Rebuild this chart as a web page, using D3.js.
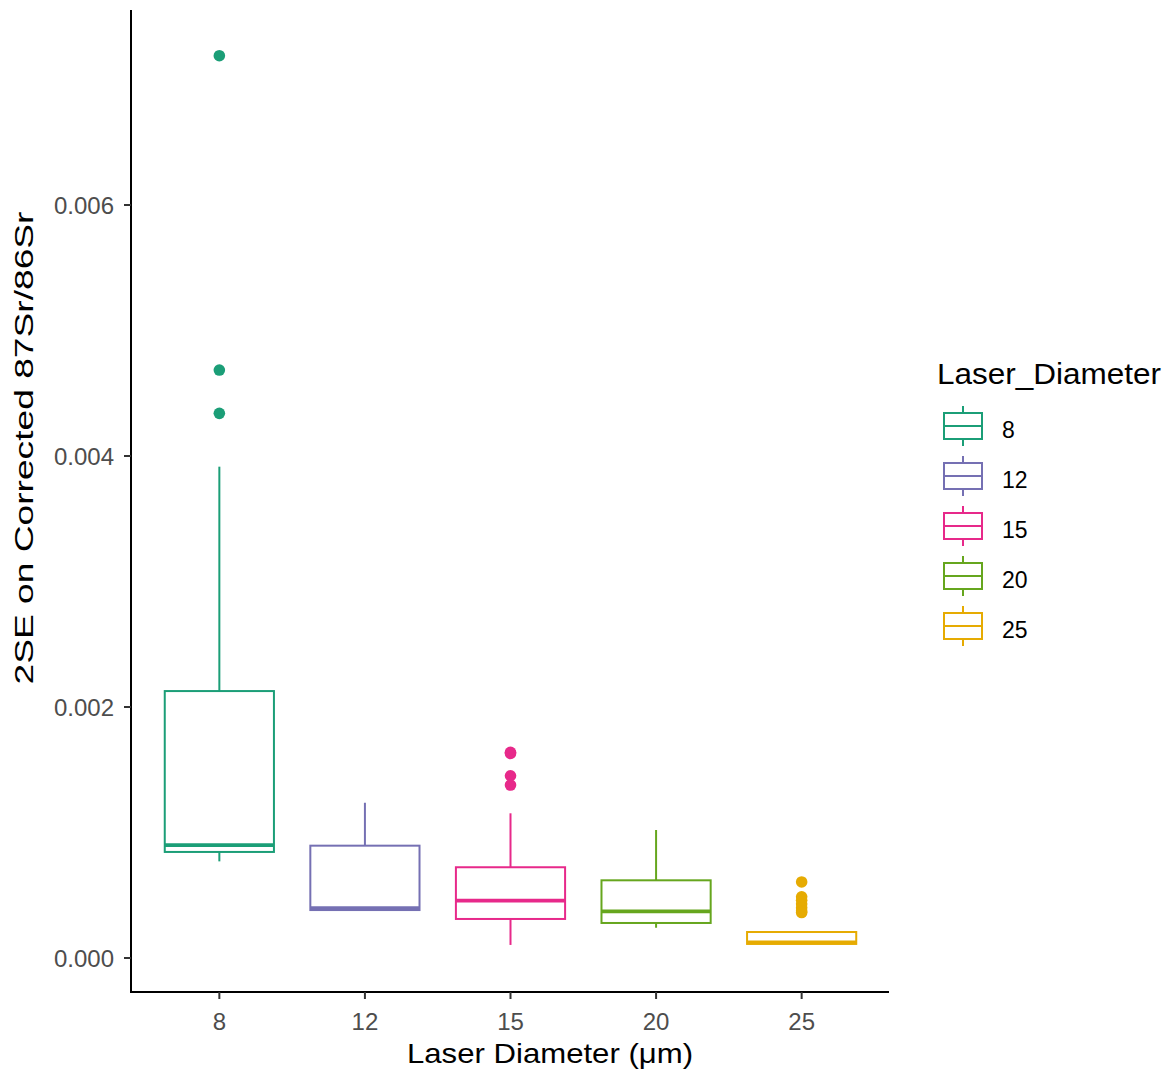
<!DOCTYPE html>
<html>
<head>
<meta charset="utf-8">
<script src="https://cdn.jsdelivr.net/npm/d3@7"></script>
<style>
  html, body { margin: 0; padding: 0; background: #fff; }
  svg { display: block; font-family: "Liberation Sans", Arial, sans-serif; }
</style>
</head>
<body>
<svg id="chart" width="1172" height="1078"></svg>
<script>
// ---- Data ----
const categories   = ["8", "12", "15", "20", "25"];
const colors       = ["#1B9E77", "#7570B3", "#E7298A", "#66A61E", "#E6AB02"];
const lowerWhisker = [0.000770, 0.000380, 0.000104, 0.000241, 0.000110];
const q1           = [0.000845, 0.000382, 0.000311, 0.000279, 0.000112];
const median       = [0.000900, 0.000398, 0.000457, 0.000372, 0.000124];
const q3           = [0.002127, 0.000895, 0.000723, 0.000619, 0.000207];
const upperWhisker = [0.003915, 0.001237, 0.001153, 0.001020, 0.000215];
const outliers8    = [0.00719, 0.004685, 0.00434];
const outliers12   = [];
const outliers15   = [0.001639, 0.001630, 0.001452, 0.001378];
const outliers20   = [];
const outliers25   = [0.000606, 0.000488, 0.000460, 0.000430, 0.000400, 0.000375, 0.000362];
const yTicks       = [0, 0.002, 0.004, 0.006];
const yTickLabels  = ["0.000", "0.002", "0.004", "0.006"];

const allOutliers = [outliers8, outliers12, outliers15, outliers20, outliers25];

const svg = d3.select("#chart");

const panel = { left: 132, right: 889, top: 10, bottom: 992 };

const x = d3.scalePoint().domain(categories).range([panel.left, panel.right]).padding(0.6);
const y = d3.scaleLinear().domain([-0.000271, 0.007554]).range([panel.bottom, panel.top]);
const boxW = x.step() * 0.75;

const boxes = categories.map((c, i) => ({
  cat: c, color: colors[i],
  lw: lowerWhisker[i], q1: q1[i], med: median[i], q3: q3[i], uw: upperWhisker[i],
  out: allOutliers[i]
}));

const g = svg.append("g");

// whiskers
g.selectAll("line.uw").data(boxes).join("line")
  .attr("x1", d => x(d.cat)).attr("x2", d => x(d.cat))
  .attr("y1", d => y(d.q3)).attr("y2", d => y(d.uw))
  .attr("stroke", d => d.color).attr("stroke-width", 2);
g.selectAll("line.lw").data(boxes).join("line")
  .attr("x1", d => x(d.cat)).attr("x2", d => x(d.cat))
  .attr("y1", d => y(d.q1)).attr("y2", d => y(d.lw))
  .attr("stroke", d => d.color).attr("stroke-width", 2);

// boxes
g.selectAll("rect.box").data(boxes).join("rect")
  .attr("x", d => x(d.cat) - boxW / 2)
  .attr("width", boxW)
  .attr("y", d => y(d.q3))
  .attr("height", d => y(d.q1) - y(d.q3))
  .attr("fill", "#fff")
  .attr("stroke", d => d.color).attr("stroke-width", 2);

// medians
g.selectAll("line.med").data(boxes).join("line")
  .attr("x1", d => x(d.cat) - boxW / 2).attr("x2", d => x(d.cat) + boxW / 2)
  .attr("y1", d => y(d.med)).attr("y2", d => y(d.med))
  .attr("stroke", d => d.color).attr("stroke-width", 3.8);

// outliers
boxes.forEach(b => {
  g.selectAll(null).data(b.out).join("circle")
    .attr("cx", x(b.cat)).attr("cy", d => y(d)).attr("r", 5.8)
    .attr("fill", b.color);
});

// axes
const axisColor = "#000";
svg.append("line").attr("x1", panel.left - 1).attr("x2", panel.left - 1)
  .attr("y1", panel.top).attr("y2", panel.bottom + 1)
  .attr("stroke", axisColor).attr("stroke-width", 2);
svg.append("line").attr("x1", panel.left - 2).attr("x2", panel.right)
  .attr("y1", panel.bottom).attr("y2", panel.bottom)
  .attr("stroke", axisColor).attr("stroke-width", 2);

// y ticks
const yt = svg.append("g");
yt.selectAll("line").data(yTicks).join("line")
  .attr("x1", panel.left - 8).attr("x2", panel.left - 1)
  .attr("y1", d => y(d)).attr("y2", d => y(d))
  .attr("stroke", "#333").attr("stroke-width", 2);
yt.selectAll("text").data(yTicks).join("text")
  .attr("x", panel.left - 18).attr("y", d => y(d) + 9)
  .attr("text-anchor", "end")
  .attr("font-size", 24).attr("fill", "#4D4D4D")
  .text((d, i) => yTickLabels[i]);

// x ticks
const xt = svg.append("g");
xt.selectAll("line").data(categories).join("line")
  .attr("x1", d => x(d)).attr("x2", d => x(d))
  .attr("y1", panel.bottom).attr("y2", panel.bottom + 7)
  .attr("stroke", "#333").attr("stroke-width", 2);
xt.selectAll("text").data(categories).join("text")
  .attr("x", d => x(d)).attr("y", 1030)
  .attr("text-anchor", "middle")
  .attr("font-size", 24).attr("fill", "#4D4D4D")
  .text(d => d);

// axis titles
svg.append("text")
  .attr("x", 407).attr("y", 1063)
  .attr("font-size", 28).attr("fill", "#000")
  .attr("textLength", 286).attr("lengthAdjust", "spacingAndGlyphs")
  .text("Laser Diameter (μm)");

svg.append("text")
  .attr("transform", "translate(33,448) rotate(-90)")
  .attr("text-anchor", "middle")
  .attr("font-size", 26).attr("fill", "#000")
  .attr("textLength", 473).attr("lengthAdjust", "spacingAndGlyphs")
  .text("2SE on Corrected 87Sr/86Sr");

// legend
const leg = svg.append("g");
leg.append("text")
  .attr("x", 937).attr("y", 384)
  .attr("font-size", 30).attr("fill", "#000")
  .attr("textLength", 224).attr("lengthAdjust", "spacingAndGlyphs")
  .text("Laser_Diameter");

const keyX = 944, keyW = 38, keySpacing = 50, keyTop = 426;
categories.forEach((c, i) => {
  const cy = keyTop + i * keySpacing;
  const cx = keyX + keyW / 2;
  const k = leg.append("g");
  k.append("line").attr("x1", cx).attr("x2", cx).attr("y1", cy - 20).attr("y2", cy - 13)
    .attr("stroke", colors[i]).attr("stroke-width", 2);
  k.append("line").attr("x1", cx).attr("x2", cx).attr("y1", cy + 13).attr("y2", cy + 20)
    .attr("stroke", colors[i]).attr("stroke-width", 2);
  k.append("rect").attr("x", keyX).attr("y", cy - 13).attr("width", keyW).attr("height", 26)
    .attr("fill", "#fff").attr("stroke", colors[i]).attr("stroke-width", 2);
  k.append("line").attr("x1", keyX).attr("x2", keyX + keyW).attr("y1", cy).attr("y2", cy)
    .attr("stroke", colors[i]).attr("stroke-width", 2);
  k.append("text").attr("x", 1002).attr("y", cy + 12)
    .attr("font-size", 23).attr("fill", "#000").text(c);
});
</script>
</body>
</html>
